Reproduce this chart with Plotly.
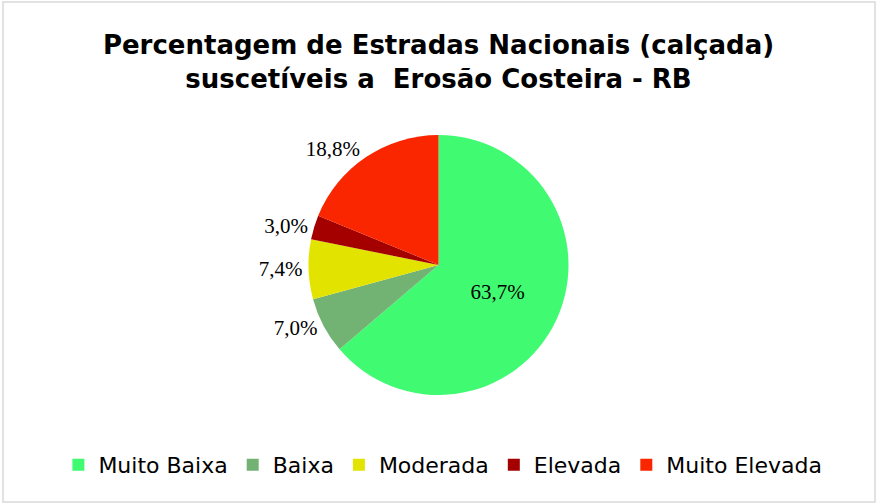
import plotly.graph_objects as go

categories = ["Muito Baixa", "Baixa", "Moderada", "Elevada", "Muito Elevada"]
values = [63.7, 7.0, 7.4, 3.0, 18.8]
text_labels = ["63,7%", "7,0%", "7,4%", "3,0%", "18,8%"]
colors = ["#40FB72", "#72B374", "#E3E300", "#A50000", "#FA2600"]
positions = ["inside", "outside", "outside", "outside", "outside"]

W, H = 877, 504

fig = go.Figure(go.Pie(
    labels=categories,
    values=values,
    text=text_labels,
    textinfo="text",
    textposition=positions,
    marker=dict(colors=colors, line=dict(width=0)),
    sort=False,
    direction="clockwise",
    rotation=0,
    insidetextfont=dict(family="Liberation Serif", size=21, color="black"),
    outsidetextfont=dict(family="Liberation Serif", size=21, color="black"),
    domain=dict(x=[0.2, 0.8], y=[(H - 395) / H, (H - 135) / H]),
    hoverinfo="label+percent",
))

fig.update_layout(
    width=W, height=H,
    paper_bgcolor="white",
    plot_bgcolor="white",
    margin=dict(l=0, r=0, t=0, b=0, autoexpand=False),
    title=dict(
        text="<b>Percentagem de Estradas Nacionais (calçada)<br>suscetíveis a  Erosão Costeira - RB</b>",
        x=0.5, xanchor="center", yref="container", y=1 - 54 / H, yanchor="top",
        font=dict(family="DejaVu Sans", size=26, color="black"),
    ),
    legend=dict(
        orientation="h", x=0.505, xanchor="center",
        y=(H - 465) / H, yanchor="middle",
        font=dict(family="DejaVu Sans", size=22, color="black"),
        itemwidth=30, tracegroupgap=0,
    ),
    shapes=[dict(type="rect", xref="paper", yref="paper",
                 x0=3 / W, x1=875 / W,
                 y0=2 / H, y1=(H - 2) / H,
                 line=dict(color="#D9D9D9", width=1.5), fillcolor="rgba(0,0,0,0)")],
)

fig.write_html("out.html", config={"displayModeBar": False},
               post_script="document.body.style.margin='0';")
